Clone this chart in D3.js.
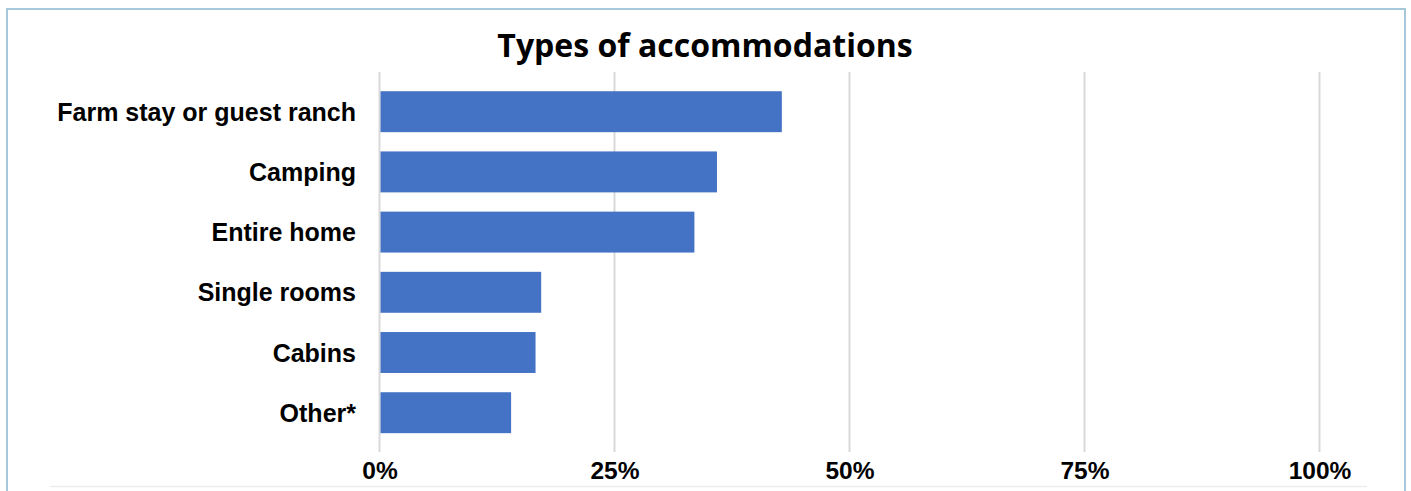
<!DOCTYPE html>
<html>
<head>
<meta charset="utf-8">
<script src="https://cdn.jsdelivr.net/npm/d3@7"></script>
<style>
  html, body { margin: 0; padding: 0; background: #fff; }
  svg { display: block; }
</style>
</head>
<body>
<svg id="chart" width="1411" height="491"></svg>
<script>
const categories = ["Farm stay or guest ranch", "Camping", "Entire home", "Single rooms", "Cabins", "Other*"];
const values = [42.8, 35.9, 33.5, 17.2, 16.6, 14.0];
const tickValues = [0, 25, 50, 75, 100];
const tickLabels = ["0%", "25%", "50%", "75%", "100%"];
const title = "Types of accommodations";

const svg = d3.select("#chart");

// outer border
svg.append("rect")
  .attr("x", 7).attr("y", 9)
  .attr("width", 1398).attr("height", 500)
  .attr("fill", "none")
  .attr("stroke", "#a7c7db")
  .attr("stroke-width", 2);

// faint bottom line
svg.append("line")
  .attr("x1", 50).attr("x2", 1367)
  .attr("y1", 486.5).attr("y2", 486.5)
  .attr("stroke", "#ededed").attr("stroke-width", 1.5);

const x = d3.scaleLinear().domain([0, 100]).range([379.5, 1319.5]);
const y = d3.scaleBand().domain(categories).range([81.6, 442.8])
  .paddingInner(0.32).paddingOuter(0.16);

// gridlines
svg.append("g").selectAll("line")
  .data(tickValues)
  .join("line")
  .attr("x1", d => x(d)).attr("x2", d => x(d))
  .attr("y1", 72).attr("y2", 452)
  .attr("stroke", "#d9d9d9").attr("stroke-width", 2);

// bars
svg.append("g").selectAll("rect")
  .data(categories)
  .join("rect")
  .attr("x", x(0) + 1)
  .attr("y", d => y(d))
  .attr("width", (d, i) => x(values[i]) - x(0) - 1)
  .attr("height", y.bandwidth())
  .attr("fill", "#4472c4");

// category axis
const yAxis = d3.axisLeft(y).tickSize(0).tickPadding(0);
const gy = svg.append("g").attr("transform", "translate(356,0)").call(yAxis);
gy.select(".domain").remove();
gy.selectAll("text")
  .attr("font-family", "'Liberation Sans', Arial, sans-serif")
  .attr("font-weight", "bold")
  .attr("font-size", "25px")
  .attr("fill", "#000")
  .attr("dy", "0.36em");

// value axis
const xAxis = d3.axisBottom(x).tickValues(tickValues)
  .tickFormat((d, i) => tickLabels[i]).tickSize(0).tickPadding(0);
const gx = svg.append("g").attr("transform", "translate(0,478.5)").call(xAxis);
gx.select(".domain").remove();
gx.selectAll("text")
  .attr("font-family", "'Liberation Sans', Arial, sans-serif")
  .attr("font-weight", "bold")
  .attr("font-size", "24.5px")
  .attr("fill", "#000")
  .attr("dy", "0");

// title
svg.append("text")
  .attr("x", 705).attr("y", 57)
  .attr("text-anchor", "middle")
  .attr("font-family", "'Open Sans', sans-serif")
  .attr("font-weight", "bold")
  .attr("font-size", "32px")
  .attr("fill", "#000")
  .text(title);
</script>
</body>
</html>
